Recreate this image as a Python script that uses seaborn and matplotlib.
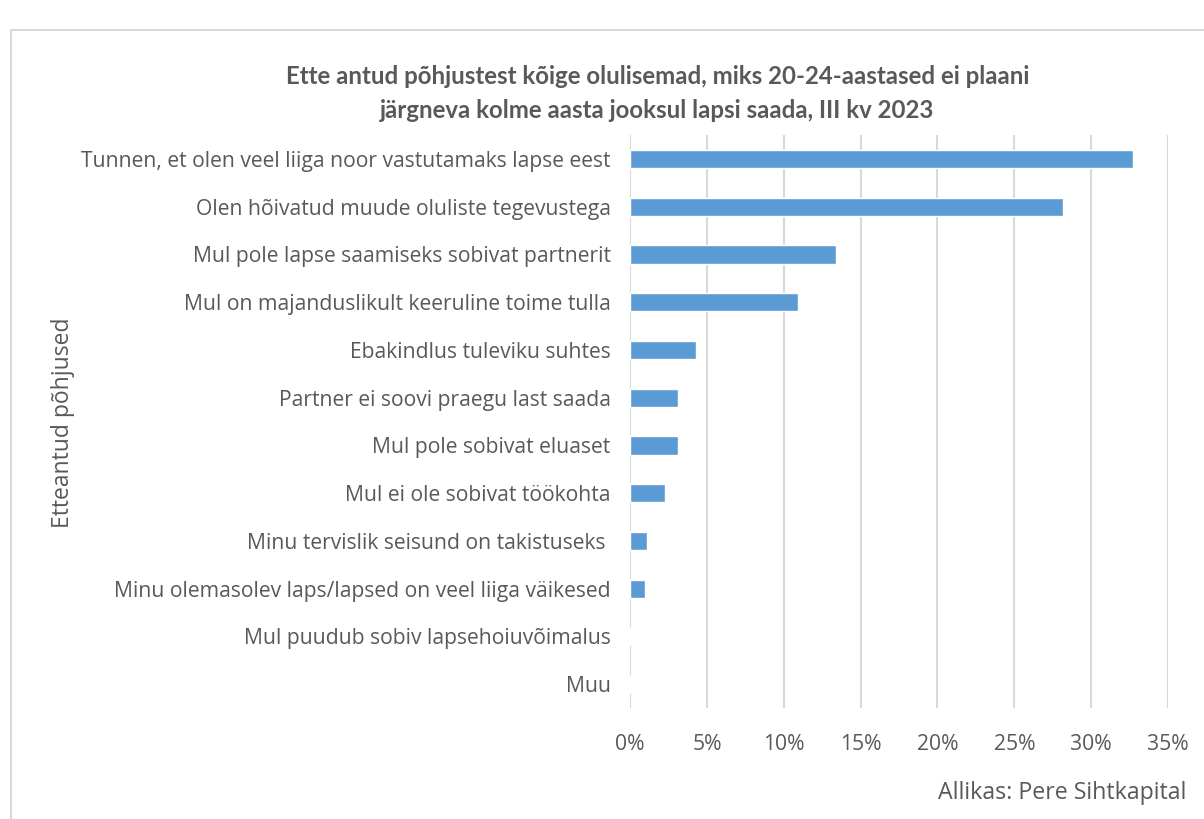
import matplotlib
matplotlib.use("Agg")
import matplotlib.pyplot as plt
import seaborn as sns
import pandas as pd
from matplotlib.ticker import PercentFormatter
from matplotlib.patches import Rectangle

reasons = [
    "Tunnen, et olen veel liiga noor vastutamaks lapse eest",
    "Olen hõivatud muude oluliste tegevustega",
    "Mul pole lapse saamiseks sobivat partnerit",
    "Mul on majanduslikult keeruline toime tulla",
    "Ebakindlus tuleviku suhtes",
    "Partner ei soovi praegu last saada",
    "Mul pole sobivat eluaset",
    "Mul ei ole sobivat töökohta",
    "Minu tervislik seisund on takistuseks ",
    "Minu olemasolev laps/lapsed on veel liiga väikesed",
    "Mul puudub sobiv lapsehoiuvõimalus",
    "Muu",
]
shares = [0.327, 0.282, 0.134, 0.109, 0.043, 0.031, 0.031, 0.023, 0.011, 0.010, 0.0, 0.0]
xticks = [0, 0.05, 0.10, 0.15, 0.20, 0.25, 0.30, 0.35]

df = pd.DataFrame({"reason": reasons, "share": shares})

sns.set_theme(style="white")
plt.rcParams["font.family"] = ["Open Sans", "DejaVu Sans"]
grey = "#595959"

fig = plt.figure(figsize=(12.04, 8.19), dpi=100)
ax = fig.add_axes([0.5233, 0.1355, 0.4468, 0.6995])

sns.barplot(data=df, x="share", y="reason", orient="h", color="#5b9bd5",
            width=0.38, saturation=1, ax=ax, zorder=3)

ax.set_xlim(0, 0.35)
ax.set_xticks(xticks)
ax.xaxis.set_major_formatter(PercentFormatter(1.0, decimals=0))
ax.grid(axis="x", color="#d9d9d9", linewidth=1.5, zorder=0)
ax.grid(axis="y", visible=False)
for s in ax.spines.values():
    s.set_visible(False)
ax.tick_params(axis="both", length=0, colors=grey, labelsize=15.2)
ax.tick_params(axis="x", pad=19)
ax.tick_params(axis="y", pad=14)
ax.set_xlabel("")
ax.set_ylabel("")

fig.text(0.052, 0.484, "Etteantud põhjused", rotation=90, ha="center", va="center",
         color=grey, fontsize=16.5)
fig.text(0.546, 0.886, "Ette antud põhjustest kõige olulisemad, miks 20-24-aastased ei plaani\n"
         "järgneva kolme aasta jooksul lapsi saada, III kv 2023",
         ha="center", va="center", color=grey, fontsize=17.3, fontweight="bold",
         family=["Lato", "DejaVu Sans"], linespacing=1.6)
fig.text(0.985, 0.032, "Allikas: Pere Sihtkapital", ha="right", va="center",
         color=grey, fontsize=16.7)

fig.patches.append(Rectangle((0.009, -0.05), 1.2, 1.013, transform=fig.transFigure,
                             fill=False, edgecolor="#d9d9d9", linewidth=1.5))

fig.savefig("out.png", dpi=100)
